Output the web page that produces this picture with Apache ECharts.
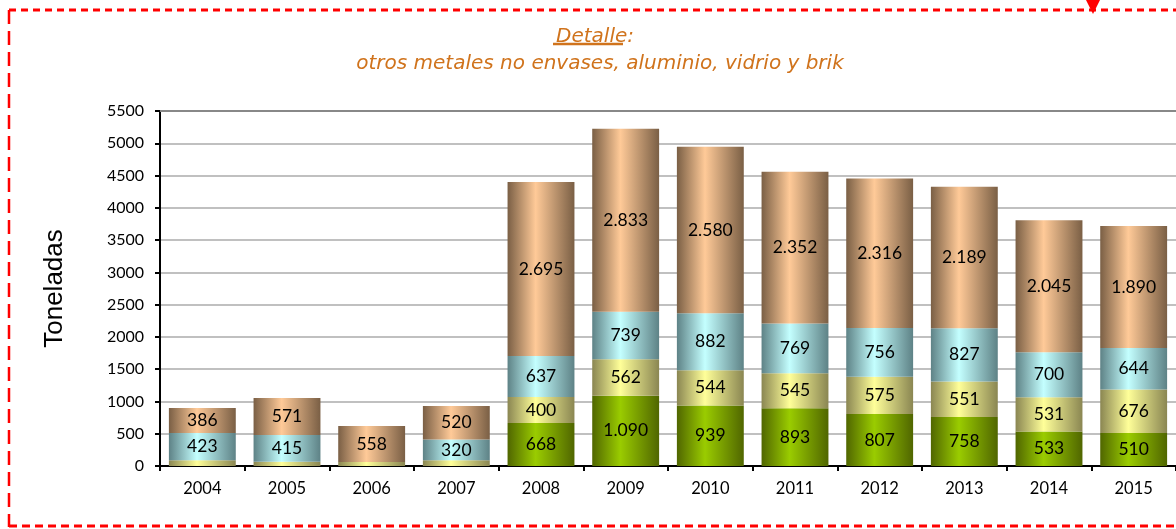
<!DOCTYPE html>
<html>
<head>
<meta charset="utf-8">
<script src="https://cdn.jsdelivr.net/npm/echarts@6/dist/echarts.min.js"></script>
<style>
    html, body { margin: 0; padding: 0; background: #fff; }
    #chart { width: 1176px; height: 529px; }
</style>
</head>
<body>
<div id="chart"></div>
<script>
    var years = ['2004', '2005', '2006', '2007', '2008', '2009', '2010', '2011', '2012', '2013', '2014', '2015'];
    var verde = [0, 0, 0, 0, 668, 1090, 939, 893, 807, 758, 533, 510];
    var amarillo = [89, 67, 62, 90, 400, 562, 544, 545, 575, 551, 531, 676];
    var celeste = [423, 415, 0, 320, 637, 739, 882, 769, 756, 827, 700, 644];
    var marron = [386, 571, 558, 520, 2695, 2833, 2580, 2352, 2316, 2189, 2045, 1890];
    var yTicks = { min: 0, max: 5500, interval: 500 };

    var font = 'Lato, "DejaVu Sans", sans-serif';
    var naranja = '#D0731C';

    function grad(dark, light) {
        return new echarts.graphic.LinearGradient(0, 0, 1, 0, [
            { offset: 0, color: dark },
            { offset: 0.42, color: light },
            { offset: 1, color: dark }
        ]);
    }

    // etiquetas con punto de miles, ocultas en los tramos pequeños
    function fmt(p) {
        if (p.value < 150) return '';
        return String(p.value).replace(/\B(?=(\d{3})+(?!\d))/g, '.');
    }

    function serie(name, data, dark, light) {
        return {
            name: name,
            type: 'bar',
            stack: 'total',
            data: data,
            barCategoryGap: '21%',
            itemStyle: { color: grad(dark, light) },
            label: {
                show: true,
                position: 'inside',
                formatter: fmt,
                color: '#000',
                fontFamily: font,
                fontSize: 17.5
            }
        };
    }

    var tituloStyle = {
        color: naranja,
        fontStyle: 'italic',
        fontWeight: 'normal',
        fontFamily: '"DejaVu Sans", sans-serif',
        fontSize: 20
    };

    var chart = echarts.init(document.getElementById('chart'));
    chart.setOption({
        animation: false,
        title: [
            { text: 'Detalle:', left: 590, top: 22, textAlign: 'center', textStyle: tituloStyle },
            { text: 'otros metales no envases, aluminio, vidrio y brik', left: 595, top: 49, textAlign: 'center', textStyle: tituloStyle }
        ],
        grid: { left: 160, right: -2, top: 111, bottom: 63 },
        xAxis: [{
            type: 'category',
            data: years,
            axisLine: { lineStyle: { color: '#000', width: 2 } },
            axisTick: { show: true, length: 5, lineStyle: { color: '#000', width: 2 } },
            axisLabel: { color: '#000', fontFamily: font, fontSize: 16.5, margin: 14 }
        }, {
            type: 'category',
            data: years,
            position: 'top',
            axisLine: { show: true, lineStyle: { color: '#888', width: 2 } },
            axisTick: { show: false },
            axisLabel: { show: false }
        }],
        yAxis: {
            type: 'value',
            min: yTicks.min,
            max: yTicks.max,
            interval: yTicks.interval,
            name: 'Toneladas',
            nameLocation: 'middle',
            nameGap: 92,
            nameTextStyle: { color: '#000', fontFamily: '"Liberation Sans", Arial, sans-serif', fontSize: 26 },
            axisLine: { show: true, lineStyle: { color: '#000', width: 2 } },
            axisTick: { show: true, length: 5, lineStyle: { color: '#000', width: 2 } },
            axisLabel: {
                color: '#000', fontFamily: font, fontSize: 16, margin: 16,
                formatter: function (v) { return String(v); }
            },
            splitLine: { lineStyle: { color: '#C0C0C0', width: 2 } }
        },
        series: [
            serie('Otros metales no envases', verde, '#506600', '#9ACC00'),
            serie('Aluminio', amarillo, '#8A8652', '#FFFF99'),
            serie('Vidrio', celeste, '#5E8286', '#C4FFFF'),
            serie('Brik', marron, '#7A5F45', '#FFCA98')
        ],
        graphic: [
            { type: 'line', shape: { x1: 553, y1: 44, x2: 623, y2: 44 }, style: { stroke: naranja, lineWidth: 2.5 } },
            { type: 'line', shape: { x1: 9, y1: 10, x2: 1176, y2: 10 }, style: { stroke: '#FF0000', lineWidth: 3, lineDash: [7, 5] } },
            { type: 'line', shape: { x1: 9, y1: 10, x2: 9, y2: 527 }, style: { stroke: '#FF0000', lineWidth: 2.5, lineDash: [14, 7] } },
            { type: 'line', shape: { x1: 9, y1: 526, x2: 1176, y2: 526 }, style: { stroke: '#FF0000', lineWidth: 3, lineDash: [8, 5] } },
            { type: 'polygon', shape: { points: [[1086, 0], [1100, 0], [1093, 14]] }, style: { fill: '#FF0000' } }
        ]
    });
</script>
</body>
</html>
